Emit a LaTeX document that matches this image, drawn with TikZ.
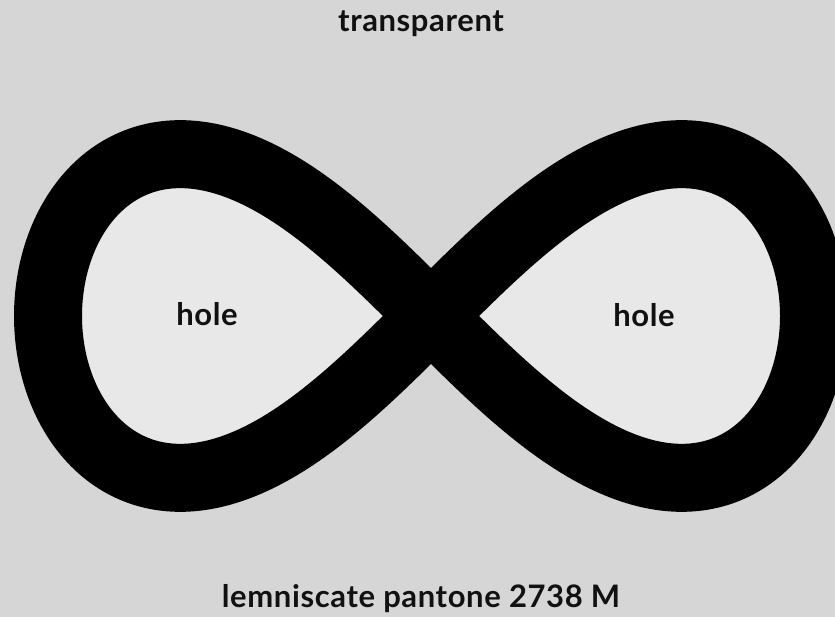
\documentclass[tikz,border=0pt]{standalone}
\usepackage{fontspec}
\setmainfont{Lato}[BoldFont={* Bold}, BoldFeatures={LetterSpace=2}]
\definecolor{bgcol}{HTML}{D6D6D6}
\definecolor{holecol}{HTML}{E8E8E8}
\definecolor{inkcol}{HTML}{111111}
\tikzset{
  lbl/.style={font=\fontsize{31}{34}\selectfont\bfseries, text=inkcol, anchor=base, inner sep=0pt},
  band/.style={draw=black, line width=68pt, line join=round, fill=holecol}
}
\begin{document}
\begin{tikzpicture}[x=1pt,y=1pt]
  \useasboundingbox (0,0) rectangle (835,617);
  \clip (0,0) rectangle (835,617);
  \fill[bgcol] (0,0) rectangle (835,617);
  \draw[band] plot[domain=0:360, samples=721, variable=\t]
    ({431+383*cos(\t)/(1+0.4*sin(\t)*sin(\t))},
     {301+383*sin(\t)*cos(\t)/(1+0.4*sin(\t)*sin(\t))}) -- cycle;
  \node[lbl] (top) at (421,585) {transparent};
  \node[lbl] (holeL) at (207,291) {hole};
  \node[lbl] (holeR) at (644,290) {hole};
  \node[lbl] (bottom) at (421,9) {lemniscate pantone 2738 M};
\end{tikzpicture}
\end{document}
